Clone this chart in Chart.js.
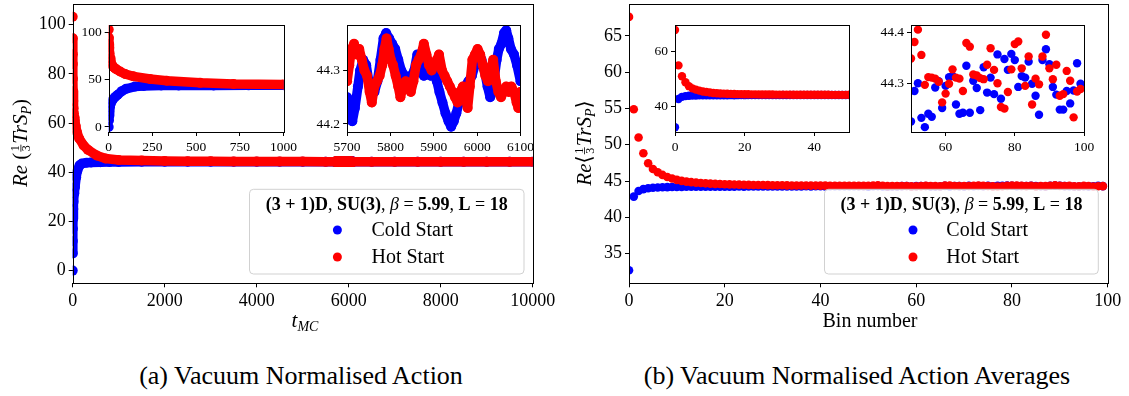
<!DOCTYPE html>
<html>
<head>
<meta charset="utf-8">
<script src="https://cdn.jsdelivr.net/npm/chart.js@4.4.1/dist/chart.umd.min.js"></script>
<style>
  body { margin: 0; background: #fff; width: 1129px; height: 396px; overflow: hidden; position: relative; }
  canvas { position: absolute; }
  .cap { position: absolute; top: 360px; font: 26px "Liberation Serif", serif; line-height: 32px; white-space: nowrap; transform: translateX(-50%); color: #000; }
</style>
</head>
<body>
<canvas id="mainA" width="560" height="340" style="left:0;top:0"></canvas>
<canvas id="earlyA" width="235" height="142" style="left:70px;top:15px"></canvas>
<canvas id="windowA" width="245" height="142" style="left:300px;top:15px"></canvas>
<canvas id="mainB" width="559" height="340" style="left:570px;top:0"></canvas>
<canvas id="earlyB" width="225" height="142" style="left:640px;top:15px"></canvas>
<canvas id="lateB" width="245" height="142" style="left:860px;top:15px"></canvas>
<div class="cap" style="left:301px">(a) Vacuum Normalised Action</div>
<div class="cap" style="left:857px">(b) Vacuum Normalised Action Averages</div>
<script>
const COLD = '#0000ff';
const HOT = '#ff0000';
const SERIF = '"Liberation Serif", "DejaVu Serif", serif';

// (a) action per Monte Carlo sweep, cold and hot starts
const coldT = [0, 1, 2, 4, 7, 12, 20, 35, 50, 75, 100, 150, 200, 300, 400, 600, 800, 1000,
  1500, 2000, 2500, 3000, 3500, 4000, 4500, 5000, 5500,
  5700, 5705, 5712, 5718, 5725, 5730, 5737, 5744, 5750, 5757,
  5763, 5770, 5777, 5784, 5790, 5797, 5804, 5811, 5818, 5825,
  5833, 5840, 5848, 5855, 5862, 5870, 5877, 5885, 5893, 5900,
  5907, 5913, 5920, 5927, 5934, 5940, 5946, 5952, 5958, 5965,
  5972, 5980, 5988, 5995, 6003, 6010, 6017, 6024, 6030, 6035,
  6040, 6045, 6050, 6056, 6062, 6067, 6072, 6078, 6085, 6092, 6100,
  6500, 7000, 7500, 8000, 8500, 9000, 9500, 10000];
const coldAction = [0, 7, 12, 17, 21, 25, 28, 31.5, 34, 38, 40.5, 42.8, 43.5, 43.9, 44.0, 44.1, 44.15, 44.2,
  44.23, 44.25, 44.26, 44.27, 44.26, 44.28, 44.27, 44.28, 44.27,
  44.25, 44.22, 44.205, 44.23, 44.27, 44.30, 44.32, 44.31, 44.28, 44.26,
  44.26, 44.28, 44.32, 44.36, 44.37, 44.36, 44.35, 44.34, 44.32, 44.30,
  44.29, 44.28, 44.29, 44.30, 44.33, 44.31, 44.29, 44.30, 44.29, 44.30,
  44.28, 44.26, 44.24, 44.22, 44.205, 44.195, 44.205, 44.22, 44.24, 44.26,
  44.27, 44.28, 44.29, 44.31, 44.32, 44.32, 44.30, 44.27, 44.25, 44.26,
  44.29, 44.32, 44.34, 44.35, 44.37, 44.375, 44.36, 44.34, 44.33, 44.31, 44.28,
  44.28, 44.27, 44.29, 44.28, 44.28, 44.29, 44.28, 44.28];

const hotT = [0, 1, 2, 3, 5, 8, 12, 18, 25, 35, 46, 65, 94, 141, 237, 332, 523, 714, 1000,
  1500, 2000, 2500, 3000, 3500, 4000, 4500, 5000, 5500,
  5700, 5705, 5710, 5716, 5722, 5728, 5734, 5740, 5746, 5752,
  5757, 5763, 5769, 5775, 5781, 5786, 5791, 5796, 5801, 5806,
  5812, 5818, 5823, 5829, 5835, 5841, 5847, 5853, 5859, 5865,
  5871, 5877, 5883, 5889, 5895, 5901, 5907, 5912, 5919, 5925,
  5931, 5937, 5943, 5949, 5955, 5961, 5967, 5973, 5978, 5983,
  5989, 5995, 6001, 6007, 6013, 6019, 6025, 6031, 6037, 6043,
  6049, 6055, 6061, 6067, 6073, 6079, 6085, 6091, 6095, 6100,
  6500, 7000, 7500, 8000, 8500, 9000, 9500, 10000];
const hotAction = [103.2, 94.5, 88, 84, 78, 73, 69, 66, 64, 62.3, 60.9, 58.8, 56.2, 53.7, 50.9, 49.1, 46.8, 45.6, 45.0,
  44.8, 44.6, 44.5, 44.45, 44.4, 44.37, 44.35, 44.33, 44.31,
  44.28, 44.31, 44.34, 44.35, 44.33, 44.34, 44.32, 44.30, 44.29, 44.26,
  44.24, 44.27, 44.28, 44.29, 44.31, 44.34, 44.36, 44.34, 44.32, 44.31,
  44.29, 44.27, 44.25, 44.27, 44.28, 44.27, 44.26, 44.28, 44.31, 44.32,
  44.33, 44.35, 44.33, 44.31, 44.30, 44.31, 44.32, 44.33, 44.30, 44.29,
  44.28, 44.27, 44.26, 44.25, 44.24, 44.26, 44.27, 44.25, 44.23, 44.27,
  44.32, 44.33, 44.34, 44.33, 44.31, 44.29, 44.28, 44.30, 44.32, 44.28,
  44.26, 44.25, 44.26, 44.27, 44.26, 44.27, 44.26, 44.24, 44.23, 44.26,
  44.29, 44.30, 44.29, 44.30, 44.29, 44.30, 44.29, 44.30];

// (b) bin averages, bins 0..99
const coldBinAverage = [32.7, 42.85, 43.62, 43.88, 44.0, 44.07, 44.11, 44.14, 44.16, 44.17,
  44.18, 44.19, 44.2, 44.2, 44.21, 44.21, 44.22, 44.21, 44.22, 44.23,
  44.22, 44.23, 44.23, 44.24, 44.23, 44.24, 44.24, 44.25, 44.24, 44.25,
  44.25, 44.26, 44.25, 44.26, 44.26, 44.25, 44.26, 44.27, 44.26, 44.27,
  44.27, 44.26, 44.27, 44.28, 44.27, 44.28, 44.27, 44.28, 44.28, 44.28,
  44.227, 44.286, 44.301, 44.234, 44.216, 44.242, 44.236, 44.293, 44.305, 44.253,
  44.296, 44.313, 44.315, 44.260, 44.242, 44.244, 44.335, 44.244, 44.306, 44.292,
  44.249, 44.332, 44.283, 44.312, 44.280, 44.357, 44.271, 44.348, 44.327, 44.358,
  44.346, 44.294, 44.315, 44.312, 44.343, 44.300, 44.277, 44.240, 44.346, 44.367,
  44.338, 44.294, 44.279, 44.250, 44.250, 44.286, 44.262, 44.287, 44.340, 44.300];
const hotBinAverage = [67.62, 54.9, 51.0, 48.83, 47.45, 46.66, 46.2, 45.84, 45.56, 45.34,
  45.16, 45.02, 44.92, 44.84, 44.78, 44.73, 44.68, 44.64, 44.61, 44.58,
  44.56, 44.54, 44.52, 44.5, 44.49, 44.47, 44.46, 44.45, 44.44, 44.43,
  44.42, 44.41, 44.41, 44.40, 44.39, 44.39, 44.38, 44.38, 44.37, 44.37,
  44.36, 44.36, 44.35, 44.35, 44.35, 44.34, 44.34, 44.34, 44.33, 44.33,
  44.349, 44.381, 44.405, 44.356, 44.298, 44.313, 44.312, 44.310, 44.304, 44.264,
  44.281, 44.300, 44.328, 44.312, 44.310, 44.286, 44.379, 44.372, 44.318, 44.316,
  44.311, 44.309, 44.337, 44.369, 44.327, 44.301, 44.255, 44.252, 44.284, 44.328,
  44.377, 44.382, 44.330, 44.296, 44.353, 44.260, 44.310, 44.299, 44.353, 44.395,
  44.330, 44.309, 44.337, 44.277, 44.280, 44.325, 44.306, 44.235, 44.285, 44.290];
const binNumber = coldBinAverage.map((_, i) => i);

// tick values
const ticksA = { x: [0, 2000, 4000, 6000, 8000, 10000], y: [0, 20, 40, 60, 80, 100] };
const ticksEarlyA = { x: [0, 250, 500, 750, 1000], y: [0, 50, 100] };
const ticksWindowA = { x: [5700, 5800, 5900, 6000, 6100], y: [44.2, 44.3] };
const ticksB = { x: [0, 20, 40, 60, 80, 100], y: [35, 40, 45, 50, 55, 60, 65] };
const ticksEarlyB = { x: [0, 20, 40], y: [40, 60] };
const ticksLateB = { x: [60, 80, 100], y: [44.3, 44.4] };

const pairs = (xs, ys) => xs.map((x, i) => ({ x: x, y: ys[i] }));

function axis(min, max, ticks, fontSize, size, horizontal) {
  return {
    type: 'linear', min: min, max: max,
    afterBuildTicks: s => { s.ticks = ticks.map(v => ({ value: v })); },
    afterFit: s => {
      if (horizontal) s.height = size; else s.width = size;
      s.paddingTop = s.paddingBottom = s.paddingLeft = s.paddingRight = 0;
    },
    ticks: { font: { family: SERIF, size: fontSize }, color: '#000', padding: 3, maxRotation: 0, autoSkip: false, callback: v => String(v) },
    grid: { drawOnChartArea: false, drawTicks: true, tickLength: 4, color: '#000', lineWidth: 1 },
    border: { display: false }
  };
}

// white axes background and the four spines
const frame = {
  id: 'frame',
  beforeDraw(chart) {
    const a = chart.chartArea, c = chart.ctx;
    c.save(); c.fillStyle = '#fff'; c.fillRect(a.left, a.top, a.right - a.left, a.bottom - a.top); c.restore();
  },
  afterDraw(chart) {
    const a = chart.chartArea, c = chart.ctx;
    c.save(); c.strokeStyle = '#000'; c.lineWidth = 1;
    c.strokeRect(Math.round(a.left) + 0.5, Math.round(a.top) + 0.5, Math.round(a.right - a.left), Math.round(a.bottom - a.top));
    c.restore();
  }
};

// text run with italics, subscripts and a small stacked fraction, centred on x
function mathRow(ctx, parts, x, y) {
  const w = parts.map(p => {
    ctx.font = p.f;
    return p.num ? Math.max(ctx.measureText(p.num).width, ctx.measureText(p.den).width) + 3 : ctx.measureText(p.t).width;
  });
  let cx = x - w.reduce((a, b) => a + b, 0) / 2;
  ctx.fillStyle = '#000';
  ctx.textBaseline = 'alphabetic';
  parts.forEach((p, i) => {
    ctx.font = p.f;
    if (p.num) {
      const mid = cx + w[i] / 2;
      ctx.textAlign = 'center';
      ctx.fillText(p.num, mid, y - 8);
      ctx.fillText(p.den, mid, y + 3);
      ctx.fillRect(cx + 1, y - 6.5, w[i] - 2, 0.8);
    } else {
      ctx.textAlign = 'left';
      ctx.fillText(p.t, cx, y + (p.dy || 0));
    }
    cx += w[i];
  });
}

const N21 = '21px ' + SERIF, I21 = 'italic 21px ' + SERIF, I14 = 'italic 14px ' + SERIF, N12 = '12px ' + SERIF;

function drawLegend(ctx, L) {
  ctx.save();
  ctx.beginPath();
  ctx.roundRect(L.x0, L.y0, L.x1 - L.x0, L.y1 - L.y0, 4);
  ctx.fillStyle = 'rgba(255,255,255,0.8)';
  ctx.fill();
  ctx.strokeStyle = 'rgba(204,204,204,0.9)';
  ctx.lineWidth = 1;
  ctx.stroke();
  const B = 'bold 18px ' + SERIF, R = '18px ' + SERIF, I = 'italic 18px ' + SERIF;
  mathRow(ctx, [
    { t: '(3 + 1)D', f: B }, { t: ', ', f: R }, { t: 'SU(3)', f: B }, { t: ', ', f: R },
    { t: 'β', f: I }, { t: ' = ', f: R }, { t: '5.99', f: B }, { t: ', ', f: R },
    { t: 'L', f: B }, { t: ' = ', f: R }, { t: '18', f: B }
  ], (L.x0 + L.x1) / 2, L.y0 + 21);
  [['Cold Start', COLD, 230], ['Hot Start', HOT, 257]].forEach(([label, color, y]) => {
    ctx.beginPath();
    ctx.arc(L.mx, y, 4.5, 0, Math.PI * 2);
    ctx.fillStyle = color;
    ctx.fill();
    ctx.fillStyle = '#000';
    ctx.font = '20px ' + SERIF;
    ctx.textAlign = 'left';
    ctx.textBaseline = 'alphabetic';
    ctx.fillText(label, L.tx, y + 6);
  });
  ctx.restore();
}

function decor(yParts, yx, xParts, xx, legend) {
  return {
    id: 'decor',
    afterDraw(chart) {
      const c = chart.ctx;
      c.save();
      c.translate(yx, 143);
      c.rotate(-Math.PI / 2);
      mathRow(c, yParts, 0, 6);
      c.restore();
      c.save();
      mathRow(c, xParts, xx, 327);
      c.restore();
      drawLegend(c, legend);
    }
  };
}

function lineSeries(xs, ys, color, order) {
  return {
    data: pairs(xs, ys), showLine: true, borderColor: color, backgroundColor: color,
    borderWidth: 9.5, borderCapStyle: 'round', borderJoinStyle: 'round',
    pointRadius: 5, pointBorderWidth: 0, pointBackgroundColor: color,
    order: order, clip: 0,
    // the starting configuration sits apart from the rest of the trace
    segment: { borderColor: ctx => ctx.p0DataIndex === 0 ? 'rgba(0,0,0,0)' : undefined }
  };
}

function dotSeries(xs, ys, color, r, order) {
  return {
    data: pairs(xs, ys), showLine: false, pointRadius: r, pointBorderWidth: 0,
    pointBackgroundColor: color, backgroundColor: color, order: order, clip: 0
  };
}

function makeChart(id, datasets, xs, ys, padding, plugins) {
  return new Chart(document.getElementById(id), {
    type: 'scatter',
    data: { datasets: datasets },
    options: {
      responsive: false, animation: false, events: [],
      layout: { padding: padding, autoPadding: false },
      plugins: { legend: { display: false }, tooltip: { enabled: false } },
      scales: { x: xs, y: ys }
    },
    plugins: [frame].concat(plugins || [])
  });
}

const seriesA = () => [lineSeries(coldT, coldAction, COLD, 1), lineSeries(hotT, hotAction, HOT, 0)];
const seriesB = r => [dotSeries(binNumber, coldBinAverage, COLD, r, 1), dotSeries(binNumber, hotBinAverage, HOT, r, 0)];

// (a) main axes
makeChart('mainA', seriesA(),
  axis(0, 10000, ticksA.x, 18, 56.7, true),
  axis(-5.16, 108.4, ticksA.y, 18, 72.7, false),
  { left: 0, top: 4, right: 27.3, bottom: 0 },
  [decor(
    [{ t: 'Re', f: I21 }, { t: ' (', f: N21 }, { num: '1', den: '3', f: N12 }, { t: 'Tr', f: I21 }, { t: 'S', f: I21 }, { t: 'P', f: I14, dy: 4 }, { t: ')', f: N21 }],
    21,
    [{ t: 't', f: I21 }, { t: 'MC', f: I14, dy: 4 }],
    305,
    { x0: 249.5, y0: 189.3, x1: 524, y1: 274, mx: 337.4, tx: 371.5 }
  )]);

// (a) insets: first 1000 sweeps, and a window of the thermalised run
makeChart('earlyA', seriesA(),
  axis(0, 1000, ticksEarlyA.x, 13.5, 25, true),
  axis(-5.3, 108.1, ticksEarlyA.y, 13.5, 38.7, false),
  { left: 0, top: 10, right: 21.4, bottom: 0 });

makeChart('windowA', seriesA(),
  axis(5700, 6100, ticksWindowA.x, 13.5, 25, true),
  axis(44.185, 44.385, ticksWindowA.y, 13.5, 47.1, false),
  { left: 0, top: 10, right: 24.5, bottom: 0 });

// (b) main axes
makeChart('mainB', seriesB(4.3),
  axis(0, 100, ticksB.x, 18, 56.7, true),
  axis(30.9, 69.4, ticksB.y, 18, 59, false),
  { left: 0, top: 4, right: 21.3, bottom: 0 },
  [decor(
    [{ t: 'Re', f: I21 }, { t: '⟨', f: N21 }, { num: '1', den: '3', f: N12 }, { t: 'Tr', f: I21 }, { t: 'S', f: I21 }, { t: 'P', f: I14, dy: 4 }, { t: '⟩', f: N21 }],
    14.5,
    [{ t: 'Bin number', f: '20px ' + SERIF }],
    300,
    { x0: 254.5, y0: 189.3, x1: 528.3, y1: 274, mx: 343, tx: 376.3 }
  )]);

// (b) insets: first 50 bins, and the last 50 bins
makeChart('earlyB', seriesB(4.2),
  axis(0, 50, ticksEarlyB.x, 13.5, 25, true),
  axis(31.0, 69.4, ticksEarlyB.y, 13.5, 35, false),
  { left: 0, top: 10, right: 15.8, bottom: 0 });

makeChart('lateB', seriesB(4.2),
  axis(50, 100, ticksLateB.x, 13.5, 25, true),
  axis(44.2066, 44.414, ticksLateB.y, 13.5, 51, false),
  { left: 0, top: 10, right: 21, bottom: 0 });
</script>
</body>
</html>
